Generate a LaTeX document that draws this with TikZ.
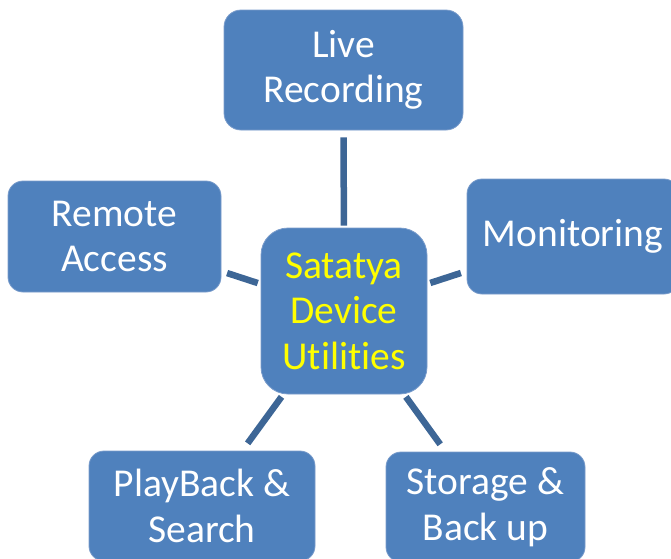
\documentclass[tikz,border=0pt]{standalone}
\usepackage{fontspec}
\setmainfont[Ligatures=NoCommon]{Carlito}
\definecolor{boxfill}{HTML}{4F81BD}
\definecolor{boxline}{HTML}{7A9CCB}
\definecolor{linkcol}{HTML}{3D6696}
\definecolor{hub}{HTML}{FFFF00}
\begin{document}
\begin{tikzpicture}[x=1pt,y=-1pt,
  boxnode/.style={fill=boxfill,draw=boxline,line width=0.8pt,inner sep=0pt,
    align=center,text=white,font=\fontsize{39.5}{45.5}\selectfont},
  link/.style={draw=linkcol,line width=6.5pt}]
\useasboundingbox (0,0) rectangle (671,558);
\clip (0,0) rectangle (671,558);
\node[boxnode,minimum width=239pt,minimum height=120pt,rounded corners=17pt] (live) at (343.5,70) {Live\\Recording};
\node[boxnode,minimum width=166pt,minimum height=166pt,rounded corners=27pt,text=hub] (hubnode) at (344,311) {Satatya\\Device\\Utilities};
\node[boxnode,minimum width=213pt,minimum height=111pt,rounded corners=15pt] (remote) at (114.5,236.5) {Remote\\Access};
\node[boxnode,minimum width=212pt,minimum height=115pt,rounded corners=15pt] (monitor) at (573,236.5) {Monitoring};
\node[boxnode,minimum width=226pt,minimum height=110pt,rounded corners=15pt] (play) at (202,506) {PlayBack \&\\Search};
\node[boxnode,minimum width=199pt,minimum height=110pt,rounded corners=15pt] (store) at (485.5,507) {Storage \&\\Back up};
\draw[link,shorten <=7pt,shorten >=2pt] (live) -- (hubnode);
\draw[link,shorten <=6pt,shorten >=3pt] (remote) -- (hubnode);
\draw[link,shorten <=6pt,shorten >=3pt] (monitor) -- (hubnode);
\draw[link,shorten <=9pt,shorten >=3pt] (play) -- (hubnode);
\draw[link,shorten <=9pt,shorten >=3pt] (store) -- (hubnode);
\end{tikzpicture}
\end{document}
